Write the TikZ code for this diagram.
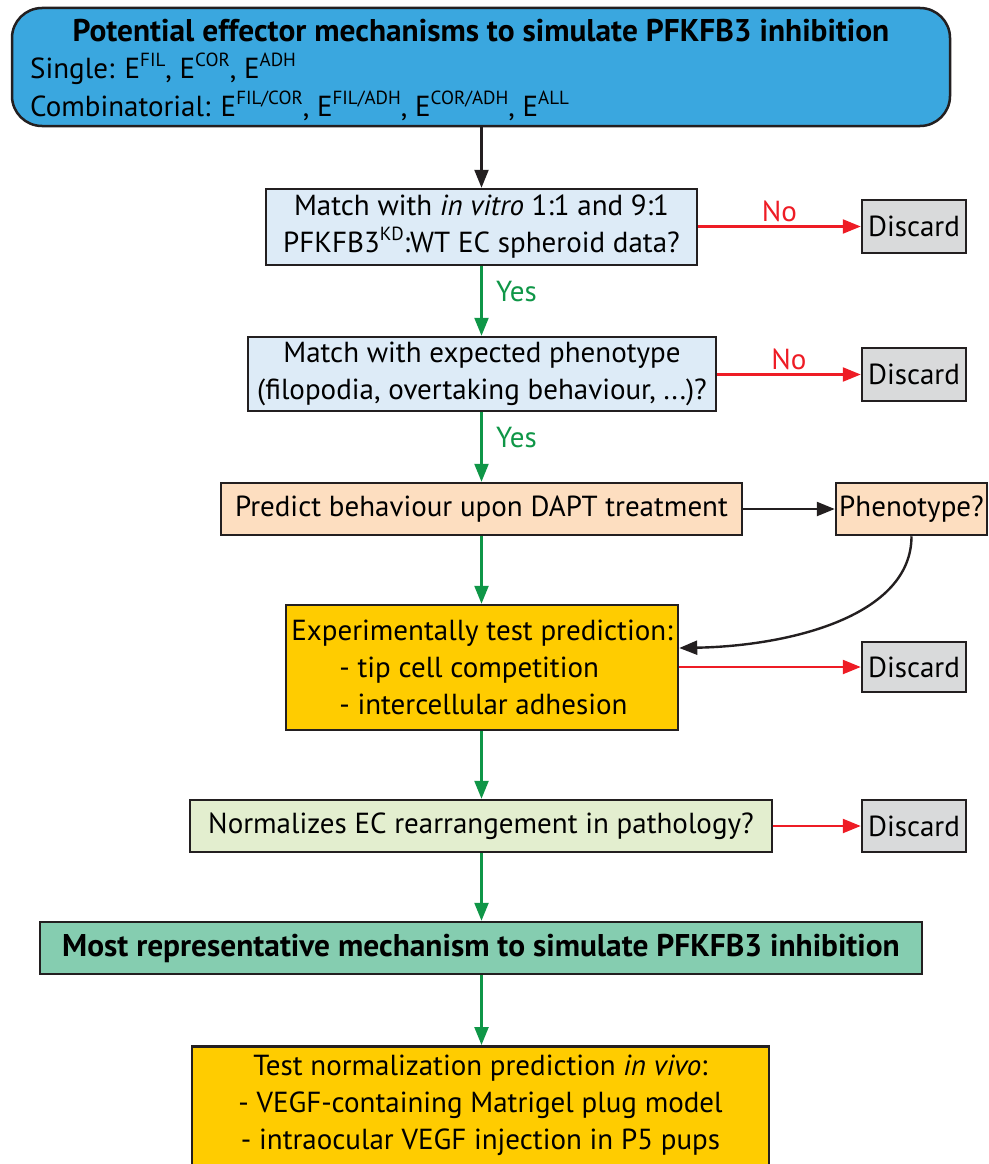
\documentclass[tikz,border=0pt]{standalone}
\usepackage{fontspec}
\setmainfont{PT Sans}
\usetikzlibrary{arrows.meta}
\definecolor{lc}{HTML}{231F20}
\definecolor{topblue}{HTML}{3AA7DF}
\definecolor{lblue}{HTML}{DDEBF7}
\definecolor{gry}{HTML}{D9DADB}
\definecolor{peach}{HTML}{FDDEC0}
\definecolor{gold}{HTML}{FFCC00}
\definecolor{lgreen}{HTML}{E3EECF}
\definecolor{teal}{HTML}{85CDB0}
\definecolor{grn}{HTML}{0F9647}
\definecolor{rd}{HTML}{EE1C25}
\newcommand{\txt}{\fontsize{29}{37}\selectfont}
\newcommand{\btxt}{\fontsize{31.4}{37}\selectfont\bfseries}
\newcommand{\sups}[1]{\raisebox{0.42em}{\fontsize{19}{19}\selectfont #1}}
\begin{document}
\begin{tikzpicture}[x=1pt,y=-1pt,
  bx/.style={draw=lc, line width=2.5pt, inner sep=0pt, align=center, font=\txt},
  tip/.style={-{Triangle[length=18pt,width=14pt]}, line width=2.4pt},
  garr/.style={tip, draw=grn},
  rarr/.style={tip, draw=rd},
  karr/.style={tip, draw=lc},
  glab/.style={text=grn, font=\txt},
  rlab/.style={text=rd, font=\txt}]
\useasboundingbox (0,0) rectangle (988,1164);

% top box
\node[bx, fill=topblue, rounded corners=30pt, minimum width=938pt, minimum height=118pt] (top) at (481,67) {};
\node[font=\btxt, anchor=center] (title) at (481,31) {Potential effector mechanisms to simulate PFKFB3 inhibition};
\node[font=\txt, anchor=west, inner sep=0pt] (single) at (30,69) {Single: E\sups{FIL}, E\sups{COR}, E\sups{ADH}};
\node[font=\txt, anchor=west, inner sep=0pt] (comb) at (30,106) {Combinatorial: E\sups{FIL/COR}, E\sups{FIL/ADH}, E\sups{COR/ADH}, E\sups{ALL}};

\node[bx, fill=lblue, minimum width=431pt, minimum height=76pt] (m1) at (481.5,227) {Match with \emph{in vitro} 1:1 and 9:1\\PFKFB3\sups{KD}:WT EC spheroid data?};
\node[bx, fill=gry, minimum width=104pt, minimum height=53pt] (d1) at (914,226.5) {Discard};

\node[bx, fill=lblue, minimum width=468pt, minimum height=74pt] (m2) at (482,374) {Match with expected phenotype\\(filopodia, overtaking behaviour, ...)?};
\node[bx, fill=gry, minimum width=104pt, minimum height=53pt] (d2) at (914,374.5) {Discard};

\node[bx, fill=peach, minimum width=521pt, minimum height=52pt] (pr) at (481.5,509) {Predict behaviour upon DAPT treatment};
\node[bx, fill=peach, minimum width=151pt, minimum height=52pt] (ph) at (911.5,509) {Phenotype?};

\node[bx, fill=gold, minimum width=392pt, minimum height=125pt, align=left] (ex) at (482,667.5) {Experimentally test prediction:\\\hspace{48pt}- tip cell competition\\\hspace{48pt}- intercellular adhesion};
\node[bx, fill=gry, minimum width=104pt, minimum height=50pt] (d3) at (914,667) {Discard};

\node[bx, fill=lgreen, minimum width=582pt, minimum height=52pt] (nm) at (481,826) {Normalizes EC rearrangement in pathology?};
\node[bx, fill=gry, minimum width=104pt, minimum height=52pt] (d4) at (914,826) {Discard};

\node[bx, fill=teal, minimum width=882pt, minimum height=52pt, font=\btxt] (mo) at (481,948) {Most representative mechanism to simulate PFKFB3 inhibition};

\node[bx, fill=gold, minimum width=577pt, minimum height=130pt, anchor=north] (te) at (480.5,1045) {};
\node[font=\txt, align=center, anchor=north] (tetext) at (480.5,1051) {Test normalization prediction \emph{in vivo}:\\- VEGF-containing Matrigel plug model\\- intraocular VEGF injection in P5 pups};

% connectors
\draw[karr] (top.south -| m1.north) -- (m1.north);
\draw[garr] (m1.south) -- node[glab, pos=0.37, right=10pt] (y1) {Yes} (m1.south |- m2.north);
\draw[rarr] (m1.east |- d1.west) -- node[rlab, midway, above=0pt] (n1) {No} (d1.west);
\draw[garr] (m1.south |- m2.south) -- node[glab, pos=0.37, right=10pt] (y2) {Yes} (m1.south |- pr.north);
\draw[rarr] (m2.east |- d2.west) -- node[rlab, midway, above=0pt] (n2) {No} (d2.west);
\draw[karr] (pr.east) -- (ph.west);
\draw[karr] (ph.south) .. controls +(0,80) and +(110,-2) .. ([yshift=19.5pt]ex.east);
\draw[garr] (m1.south |- pr.south) -- (m1.south |- ex.north);
\draw[rarr] (ex.east |- d3.west) -- (d3.west);
\draw[garr] (m1.south |- ex.south) -- (m1.south |- nm.north);
\draw[rarr] (nm.east) -- (d4.west);
\draw[garr] (m1.south |- nm.south) -- (m1.south |- mo.north);
\draw[garr] (m1.south |- mo.south) -- (m1.south |- te.north);
\end{tikzpicture}
\end{document}
